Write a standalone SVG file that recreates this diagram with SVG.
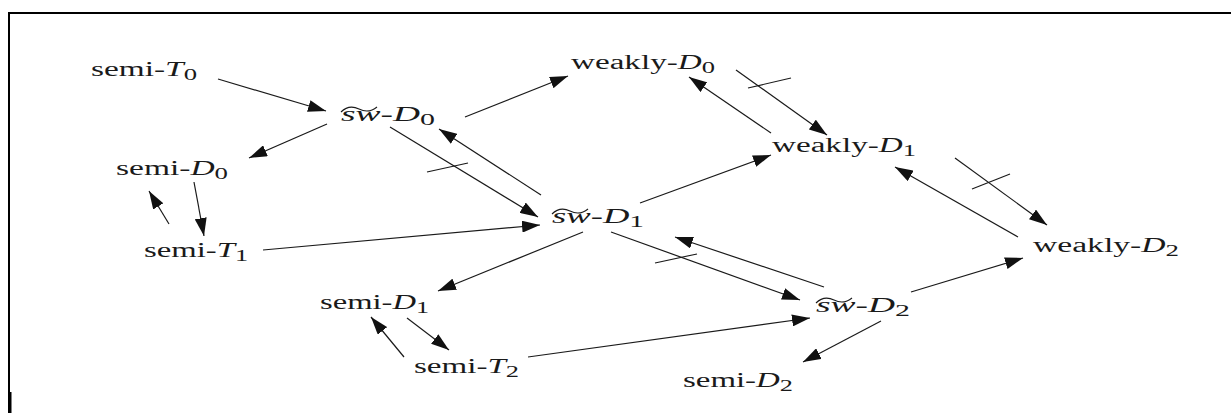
<svg xmlns="http://www.w3.org/2000/svg" width="1231" height="413" viewBox="0 0 1231 413">
<style>
text{font-family:"Liberation Serif","Times New Roman",serif;font-size:20px;fill:#1a1a1a}
.i{font-style:italic}
.sub{font-size:16px}
.c{stroke:#1a1a1a;stroke-width:1.2;fill:none}
.t{stroke:#1a1a1a;stroke-width:1.1;fill:none}
</style>
<defs>
<marker id="ah" viewBox="0 0 18 12" refX="18" refY="6" markerWidth="18" markerHeight="12" markerUnits="userSpaceOnUse" orient="auto">
<path d="M0,0 L18,6 L0,12 z" fill="#111"/>
</marker>
<path id="tilde" d="M0,-9 C6,-15 12,-15 18,-12 C24,-9 30,-9 36,-14" class="t"/>
</defs>
<rect width="1231" height="413" fill="#fff"/>
<g id="frame">
<line x1="8" y1="13" x2="1231" y2="13" stroke="#000" stroke-width="2"/>
<line x1="9" y1="13" x2="9" y2="413" stroke="#000" stroke-width="2"/>
<line x1="10" y1="392" x2="10" y2="413" stroke="#000" stroke-width="3"/>
</g>
<g id="connectors">
<line class="c" x1="218" y1="79" x2="326" y2="111" marker-end="url(#ah)"/>
<line class="c" x1="327" y1="124" x2="249" y2="158" marker-end="url(#ah)"/>
<line class="c" x1="194" y1="182" x2="204" y2="236" marker-end="url(#ah)"/>
<line class="c" x1="169" y1="224" x2="149" y2="191" marker-end="url(#ah)"/>
<line class="c" x1="263" y1="250" x2="540" y2="225" marker-end="url(#ah)"/>
<line class="c" x1="390" y1="127" x2="538" y2="217" marker-end="url(#ah)"/>
<line class="c" x1="427" y1="172" x2="468" y2="163"/>
<line class="c" x1="541" y1="195" x2="439" y2="129" marker-end="url(#ah)"/>
<line class="c" x1="465" y1="117" x2="568" y2="76" marker-end="url(#ah)"/>
<line class="c" x1="736" y1="70" x2="827" y2="135" marker-end="url(#ah)"/>
<line class="c" x1="748" y1="88" x2="791" y2="78"/>
<line class="c" x1="771" y1="133" x2="689" y2="77" marker-end="url(#ah)"/>
<line class="c" x1="640" y1="203" x2="771" y2="155" marker-end="url(#ah)"/>
<line class="c" x1="1018" y1="237" x2="895" y2="167" marker-end="url(#ah)"/>
<line class="c" x1="955" y1="158" x2="1047" y2="225" marker-end="url(#ah)"/>
<line class="c" x1="972" y1="189" x2="1010" y2="174"/>
<line class="c" x1="911" y1="292" x2="1023" y2="258" marker-end="url(#ah)"/>
<line class="c" x1="881" y1="321" x2="803" y2="362" marker-end="url(#ah)"/>
<line class="c" x1="583" y1="232" x2="438" y2="291" marker-end="url(#ah)"/>
<line class="c" x1="407" y1="318" x2="449" y2="350" marker-end="url(#ah)"/>
<line class="c" x1="404" y1="357" x2="371" y2="317" marker-end="url(#ah)"/>
<line class="c" x1="528" y1="357" x2="810" y2="318" marker-end="url(#ah)"/>
<line class="c" x1="611" y1="232" x2="800" y2="300" marker-end="url(#ah)"/>
<line class="c" x1="655" y1="263" x2="697" y2="254"/>
<line class="c" x1="824" y1="287" x2="675" y2="237" marker-end="url(#ah)"/>
</g>
<g id="semiT0"><text x="91" y="76" textLength="106" lengthAdjust="spacingAndGlyphs">semi-<tspan class="i">T</tspan><tspan class="sub" dy="4">0</tspan></text></g>
<g id="semiD0"><text x="116" y="175" textLength="112" lengthAdjust="spacingAndGlyphs">semi-<tspan class="i">D</tspan><tspan class="sub" dy="4">0</tspan></text></g>
<g id="semiT1"><text x="144" y="257" textLength="104" lengthAdjust="spacingAndGlyphs">semi-<tspan class="i">T</tspan><tspan class="sub" dy="4">1</tspan></text></g>
<g id="semiD1"><text x="320" y="309" textLength="109" lengthAdjust="spacingAndGlyphs">semi-<tspan class="i">D</tspan><tspan class="sub" dy="4">1</tspan></text></g>
<g id="semiT2"><text x="414" y="373" textLength="105" lengthAdjust="spacingAndGlyphs">semi-<tspan class="i">T</tspan><tspan class="sub" dy="4">2</tspan></text></g>
<g id="semiD2"><text x="683" y="387" textLength="110" lengthAdjust="spacingAndGlyphs">semi-<tspan class="i">D</tspan><tspan class="sub" dy="4">2</tspan></text></g>
<g id="weaklyD0"><text x="571" y="69" textLength="144" lengthAdjust="spacingAndGlyphs">weakly-<tspan class="i">D</tspan><tspan class="sub" dy="4">0</tspan></text></g>
<g id="weaklyD1"><text x="772" y="152" textLength="144" lengthAdjust="spacingAndGlyphs">weakly-<tspan class="i">D</tspan><tspan class="sub" dy="4">1</tspan></text></g>
<g id="weaklyD2"><text x="1033" y="252" textLength="146" lengthAdjust="spacingAndGlyphs">weakly-<tspan class="i">D</tspan><tspan class="sub" dy="4">2</tspan></text></g>
<g id="swD0"><text x="341" y="121" textLength="94" lengthAdjust="spacingAndGlyphs"><tspan class="i">sw</tspan>-<tspan class="i">D</tspan><tspan class="sub" dy="4">0</tspan></text><use href="#tilde" x="341" y="121"/></g>
<g id="swD1"><text x="552" y="223" textLength="92" lengthAdjust="spacingAndGlyphs"><tspan class="i">sw</tspan>-<tspan class="i">D</tspan><tspan class="sub" dy="4">1</tspan></text><use href="#tilde" x="552" y="223"/></g>
<g id="swD2"><text x="816" y="312" textLength="94" lengthAdjust="spacingAndGlyphs"><tspan class="i">sw</tspan>-<tspan class="i">D</tspan><tspan class="sub" dy="4">2</tspan></text><use href="#tilde" x="816" y="312"/></g>
</svg>
